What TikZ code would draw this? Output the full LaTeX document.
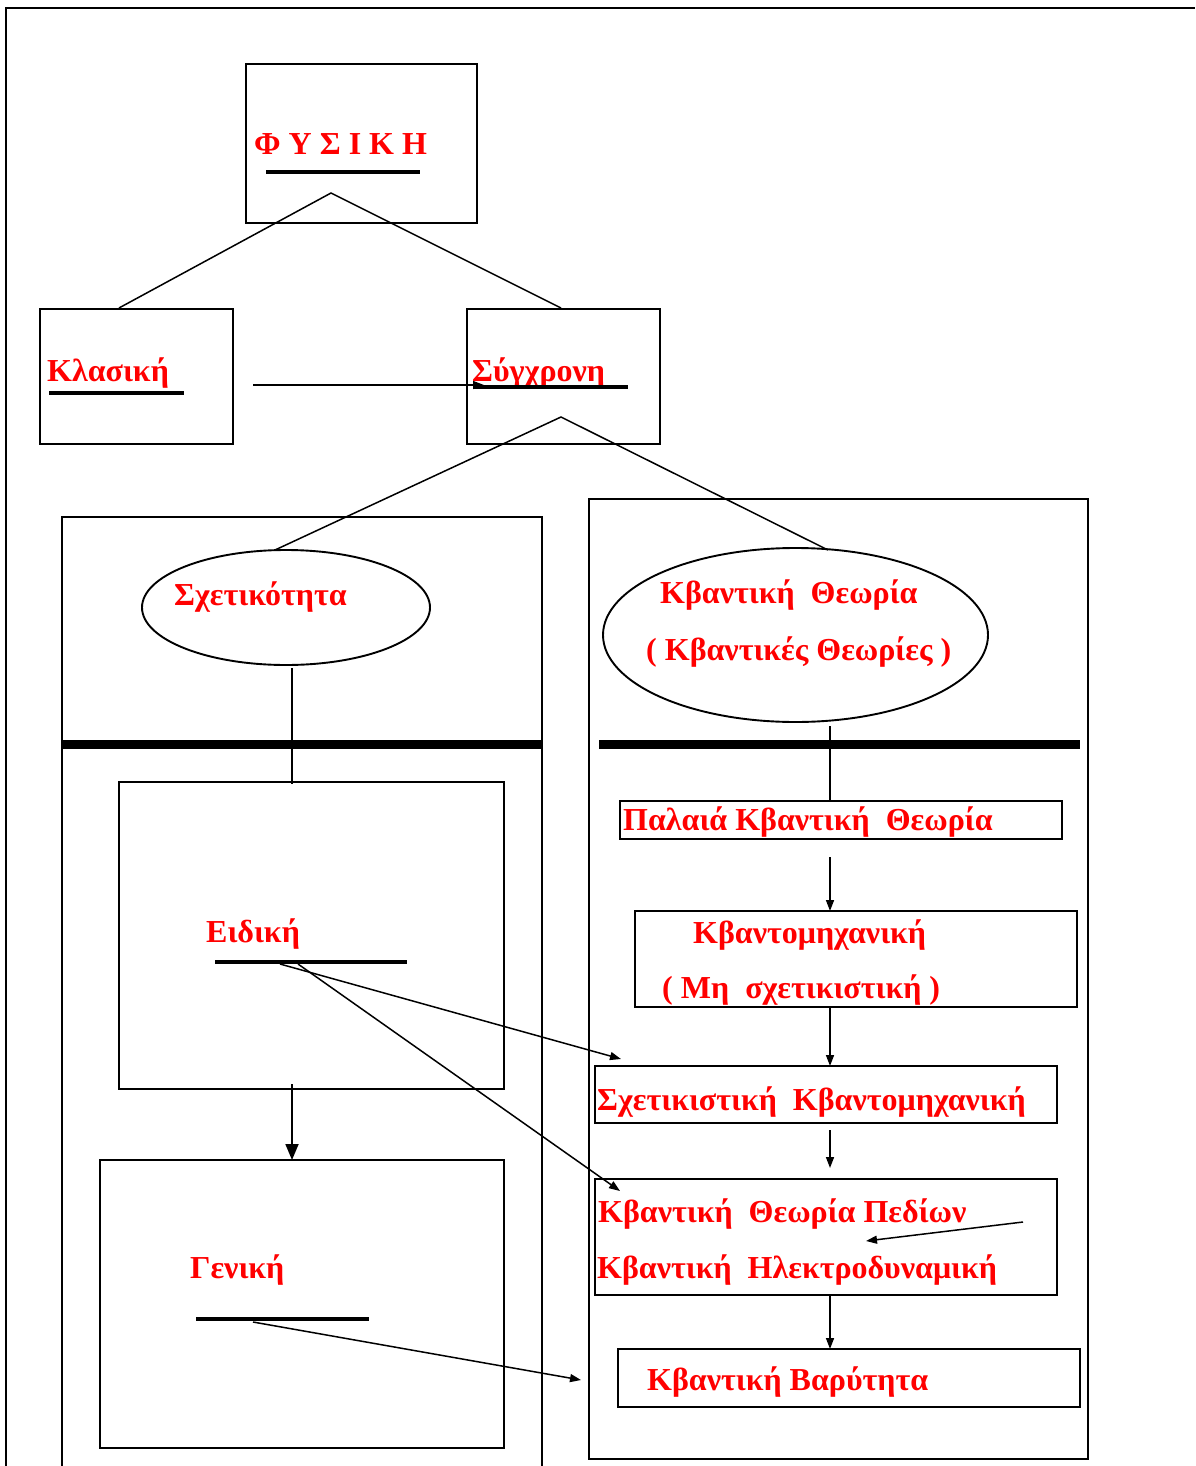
\documentclass[tikz,border=0pt]{standalone}
\usepackage{fontspec}
\setmainfont{Liberation Serif}
\usetikzlibrary{arrows.meta,shapes.geometric}
\begin{document}
\begin{tikzpicture}[x=1pt,y=-1pt,
  box/.style={draw,line width=1.9pt,inner sep=0pt,outer sep=0pt,rectangle},
  oval/.style={draw,line width=1.9pt,inner sep=0pt,outer sep=0pt,ellipse},
  lbl/.style={anchor=base west,inner sep=0pt,text=red,font=\fontsize{32}{36}\selectfont\bfseries},
  conn/.style={line width=1.5pt},
  uline/.style={line width=4.5pt},
  sep/.style={line width=9pt},
  arr/.style={line width=1.5pt,-{Triangle[length=11pt,width=8pt]}},
  bigarr/.style={line width=1.8pt,-{Triangle[length=16pt,width=13pt]}}]
\useasboundingbox (0,0) rectangle (1195,1466);
% outer frame
\coordinate (fbl) at (6,1466);
\coordinate (ftl) at (6,8);
\coordinate (ftr) at (1195,8);
\draw[line width=1.8pt] (fbl) -- (ftl) -- (ftr);
% top box
\node[box,minimum width=231,minimum height=159] (phys) at (361.5,143.5) {};
\node[lbl] (tphys) at (254,155) {Φ Υ Σ Ι Κ Η};
\coordinate (u1a) at (266,172); \coordinate (u1b) at (420,172);
\draw[uline] (u1a) -- (u1b);
\coordinate (pk1) at (331,193);
\coordinate (klT) at (119,308);
\coordinate (syT) at (561,308);
\draw[conn] (klT) -- (pk1) -- (syT);
% classical / modern
\node[box,minimum width=193,minimum height=135] (klas) at (136.5,376.5) {};
\node[lbl] (tklas) at (47,381) {Κλασική};
\coordinate (u2a) at (49,393); \coordinate (u2b) at (184,393);
\draw[uline] (u2a) -- (u2b);
\node[box,minimum width=193,minimum height=135] (syg) at (563.5,376.5) {};
\node[lbl] (tsyg) at (472,381) {Σύγχρονη};
\coordinate (u3a) at (473,387); \coordinate (u3b) at (628,387);
\draw[uline] (u3a) -- (u3b);
\coordinate (ka) at (253,385); \coordinate (kb) at (484,385);
\draw[arr] (ka) -- (kb);
\coordinate (pk2) at (561,417);
\coordinate (relT) at (275,550);
\coordinate (qtT) at (828,550);
\draw[conn] (relT) -- (pk2) -- (qtT);
% left big panel
\coordinate (lp1) at (62,1466); \coordinate (lp2) at (62,517);
\coordinate (lp3) at (542,517); \coordinate (lp4) at (542,1466);
\draw[line width=1.9pt] (lp1) -- (lp2) -- (lp3) -- (lp4);
\coordinate (s1a) at (62,744); \coordinate (s1b) at (542,744);
\draw[sep] (s1a) -- (s1b);
\node[oval,minimum width=288,minimum height=115] (rel) at (286,607.5) {};
\node[lbl] (trel) at (174,605) {Σχετικότητα};
\node[box,minimum width=385,minimum height=307] (eid) at (311.5,935.5) {};
\node[lbl] (teid) at (206,942) {Ειδική};
\coordinate (u4a) at (215,962); \coordinate (u4b) at (407,962);
\draw[uline] (u4a) -- (u4b);
\coordinate (rv1) at (292,668); \coordinate (rv2) at (292,784);
\draw[conn] (rv1) -- (rv2);
\node[box,minimum width=404,minimum height=288] (gen) at (302,1304) {};
\node[lbl] (tgen) at (190,1278) {Γενική};
\coordinate (u5a) at (196,1319); \coordinate (u5b) at (369,1319);
\draw[uline] (u5a) -- (u5b);
\coordinate (eg1) at (292,1084);
\draw[bigarr] (eg1) -- (gen.north -| eg1);
% right big panel
\node[box,minimum width=499,minimum height=960] (rpan) at (838.5,979) {};
\coordinate (s2a) at (599,744); \coordinate (s2b) at (1080,744);
\draw[sep] (s2a) -- (s2b);
\node[oval,minimum width=385,minimum height=174] (qt) at (795.5,635) {};
\node[lbl] (tqt1) at (660,603) {Κβαντική\ \ Θεωρία};
\node[lbl] (tqt2) at (646,660) {( Κβαντικές Θεωρίες )};
\node[box,minimum width=442,minimum height=38] (old) at (841,820) {};
\node[lbl] (told) at (623,830) {Παλαιά Κβαντική\ \ Θεωρία};
\coordinate (qv1) at (830,726);
\draw[conn] (qv1) -- (old.north -| qv1);
\node[box,minimum width=442,minimum height=96] (qm) at (856,959) {};
\node[lbl] (tqm1) at (693,943) {Κβαντομηχανική};
\node[lbl] (tqm2) at (662,998) {( Μη\ \ σχετικιστική )};
\coordinate (a1) at (830,857);
\draw[arr] (a1) -- (qm.north -| a1);
\node[box,minimum width=462,minimum height=57] (rqm) at (826,1094.5) {};
\node[lbl] (trqm) at (597,1110) {Σχετικιστική\ \ Κβαντομηχανική};
\coordinate (a2) at (830,1007);
\draw[arr] (a2) -- (rqm.north -| a2);
\coordinate (a3a) at (830,1130); \coordinate (a3b) at (830,1168);
\draw[arr] (a3a) -- (a3b);
\node[box,minimum width=462,minimum height=116] (qft) at (826,1237) {};
\node[lbl] (tqft1) at (598,1222) {Κβαντική\ \ Θεωρία Πεδίων};
\node[lbl] (tqft2) at (597,1278) {Κβαντική\ \ Ηλεκτροδυναμική};
\coordinate (a4a) at (1023,1222); \coordinate (a4b) at (866,1241);
\draw[arr] (a4a) -- (a4b);
\node[box,minimum width=462,minimum height=58] (qg) at (849,1378) {};
\node[lbl] (tqg) at (647,1390) {Κβαντική Βαρύτητα};
\coordinate (a5) at (830,1295);
\draw[arr] (a5) -- (qg.north -| a5);
% cross arrows
\coordinate (e1) at (280,964); \coordinate (e1t) at (621,1059);
\draw[arr] (e1) -- (e1t);
\coordinate (e2) at (298,964); \coordinate (e2t) at (620,1191);
\draw[arr] (e2) -- (e2t);
\coordinate (g1) at (253,1322); \coordinate (g1t) at (581,1380);
\draw[arr] (g1) -- (g1t);
\end{tikzpicture}
\end{document}
